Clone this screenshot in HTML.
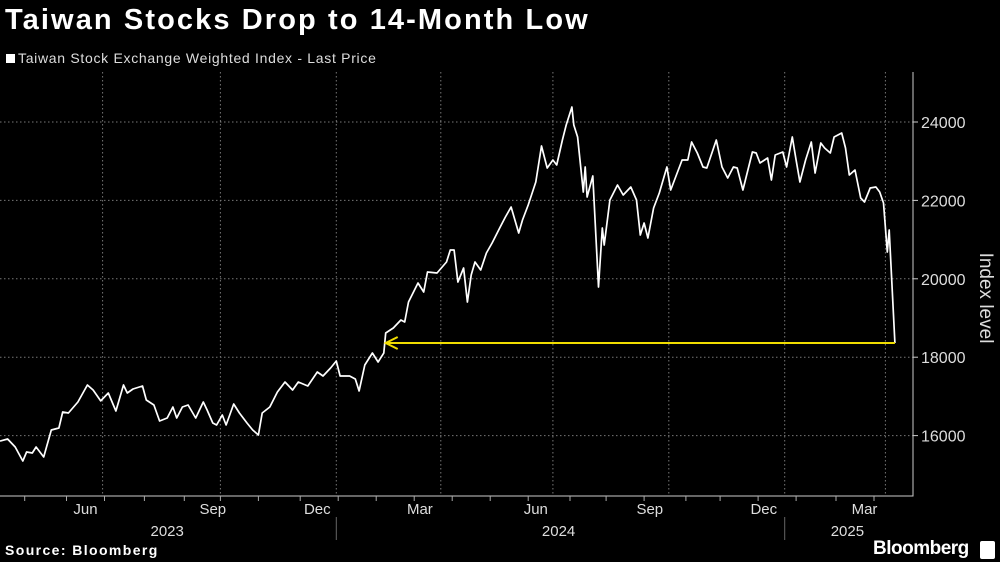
<!DOCTYPE html>
<html><head><meta charset="utf-8">
<style>
html,body{margin:0;padding:0;background:#000;}
body{width:1000px;height:562px;overflow:hidden;position:relative;font-family:"Liberation Sans",sans-serif;color:#fff;}
#title{position:absolute;left:5px;top:4px;font-size:29px;font-weight:bold;letter-spacing:2.1px;}
#legend{position:absolute;left:6px;top:50px;font-size:14px;color:#ddd;letter-spacing:0.7px;}
#legend span.sw{display:inline-block;width:9px;height:9px;background:#fff;margin-right:3px;vertical-align:0px;}
#source{position:absolute;left:5px;top:542px;font-size:14px;font-weight:bold;letter-spacing:1.4px;}
#logo{position:absolute;left:873px;top:538px;font-size:19px;font-weight:bold;letter-spacing:-0.5px;}
#logo-icon{position:absolute;left:980px;top:541px;width:15px;height:18px;background:#fff;border-radius:2px;}
svg{position:absolute;left:0;top:0;}
</style></head>
<body>
<div id="title">Taiwan Stocks Drop to 14-Month Low</div>
<div id="legend"><span class="sw"></span>Taiwan Stock Exchange Weighted Index - Last Price</div>
<div id="source">Source: Bloomberg</div>
<div id="logo">Bloomberg</div>
<div id="logo-icon"></div>
<svg id="chart" width="1000" height="562"></svg>
<script>
const days=[0,4,8,12,14,17,19,23,27,31,33,36,41,46,49,53,57,61,65,67,70,75,77,81,84,88,91,93,96,99,103,107,109,112,114,117,119,123,126,130,133,136,138,142,146,150,154,157,162,167,170,174,177,179,184,187,189,192,196,199,202,203,207,211,213,215,220,223,225,230,235,237,239,241,244,246,248,250,253,256,259,263,266,269,273,275,278,282,285,288,291,293,296,298,301,302,304,307,308,309,312,315,317,318,321,325,328,332,335,337,339,341,344,347,351,353,356,359,362,364,367,370,372,377,380,383,386,388,391,396,398,400,404,406,408,412,414,417,419,421,424,427,429,432,434,437,439,443,445,447,450,453,455,458,461,463,465,467,468,471];
const values=[15860,15913,15709,15352,15581,15556,15709,15454,16143,16194,16602,16577,16857,17291,17164,16884,17087,16628,17291,17087,17189,17265,16908,16781,16373,16449,16730,16449,16730,16781,16449,16857,16653,16322,16271,16526,16271,16806,16577,16322,16143,16015,16577,16730,17112,17367,17164,17367,17265,17622,17520,17724,17903,17520,17520,17444,17138,17801,18107,17877,18107,18617,18745,18949,18898,19408,19893,19663,20173,20148,20429,20735,20735,19918,20275,19408,20097,20429,20224,20658,20913,21296,21576,21832,21169,21500,21883,22469,23388,22826,23031,22903,23541,23924,24383,23924,23618,22214,22852,22087,22622,19791,21296,20862,22010,22393,22138,22342,22010,21117,21423,21041,21806,22189,22852,22265,22648,23031,23031,23490,23209,22852,22826,23541,22852,22571,22852,22826,22265,23235,23209,22954,23082,22520,23158,23235,22852,23617,23031,22469,23031,23490,22699,23464,23337,23209,23617,23719,23337,22648,22776,22061,21959,22316,22342,22214,21934,20684,21245,18362];
const yTicks=[16000,18000,20000,22000,24000];
const gridDays=[54,116,177,232,291,352,413,466];
const monthTickDays=[13,35,55,76,97,116,136,158,178,198,218,238,258,278,300,319,339,361,379,399,419,440,460];
const monthLabels=["Jun","Sep","Dec","Mar","Jun","Sep","Dec","Mar"];
const monthLabelDays=[45,112,167,221,282,342,402,455];
const yearLabels=["2023","2024","2025"];
const yearLabelDays=[88,294,446];
const yearSepDays=[177,413];
const arrowStartDay=203;

const NS="http://www.w3.org/2000/svg";
const svg=document.getElementById('chart');
const X0=0,XPX=1.9,AXX=913,TOP=72,BOT=496;
function xs(d){return X0+d*XPX;}
function ys(v){return 122+(24000-v)*0.0392;}
function mk(tag,attrs,parent){const e=document.createElementNS(NS,tag);for(const k in attrs)e.setAttribute(k,attrs[k]);(parent||svg).appendChild(e);return e;}

yTicks.forEach(v=>{
  const g=mk('line',{x1:0,x2:AXX,y1:ys(v),y2:ys(v),stroke:'#777','stroke-width':1,'stroke-dasharray':'1.5,2.5'});
  
  
  const t=mk('line',{x1:AXX,x2:AXX+5,y1:ys(v),y2:ys(v),stroke:'#ccc','stroke-width':1});
  
  
  const l=mk('text',{x:AXX+8,y:ys(v)+6,fill:'#ddd','font-size':16,'font-family':'Liberation Sans, sans-serif'});
  l.textContent=v;
  
  
});
gridDays.forEach(d=>{
  const g=mk('line',{x1:xs(d),x2:xs(d),y1:TOP,y2:BOT,stroke:'#777','stroke-width':1,'stroke-dasharray':'1.5,2.5'});
  
  
});
const ax=mk('polyline',{points:`${AXX},${TOP} ${AXX},${BOT} 0,${BOT}`,fill:'none',stroke:'#ccc','stroke-width':1});


monthTickDays.forEach(d=>{
  const t=mk('line',{x1:xs(d),x2:xs(d),y1:BOT,y2:BOT+5,stroke:'#aaa','stroke-width':1});
  
  
});
monthLabels.forEach((m,i)=>{
  const t=mk('text',{x:xs(monthLabelDays[i]),y:514,fill:'#ddd','font-size':15,'text-anchor':'middle','font-family':'Liberation Sans, sans-serif'});
  t.textContent=m;
  
  
});
yearLabels.forEach((yv,i)=>{
  const t=mk('text',{x:xs(yearLabelDays[i]),y:536,fill:'#ddd','font-size':15,'text-anchor':'middle','font-family':'Liberation Sans, sans-serif'});
  t.textContent=yv;
  
  
});
yearSepDays.forEach(d=>{
  const s=mk('line',{x1:xs(d),x2:xs(d),y1:517,y2:540,stroke:'#666','stroke-width':1});
  
  
});
const yt=mk('text',{x:0,y:0,fill:'#ddd','font-size':19,'text-anchor':'middle','font-family':'Liberation Sans, sans-serif',transform:'translate(980,298) rotate(90)'});
yt.textContent='Index level';



const pts=days.map((d,i)=>xs(d).toFixed(1)+','+ys(values[i]).toFixed(1)).join(' ');
const line=mk('polyline',{points:pts,fill:'none',stroke:'#fff','stroke-width':1.7,'stroke-linejoin':'round'});



const lastV=values[values.length-1],lastD=days[days.length-1];
const ay=ys(lastV);
const arr=mk('line',{x1:xs(arrowStartDay),x2:xs(lastD),y1:ay,y2:ay,stroke:'#f0dc00','stroke-width':2});


const head=mk('polyline',{points:`${xs(arrowStartDay)+12},${ay-6} ${xs(arrowStartDay)},${ay} ${xs(arrowStartDay)+12},${ay+6}`,fill:'none',stroke:'#f0dc00','stroke-width':2});


</script>
</body></html>
